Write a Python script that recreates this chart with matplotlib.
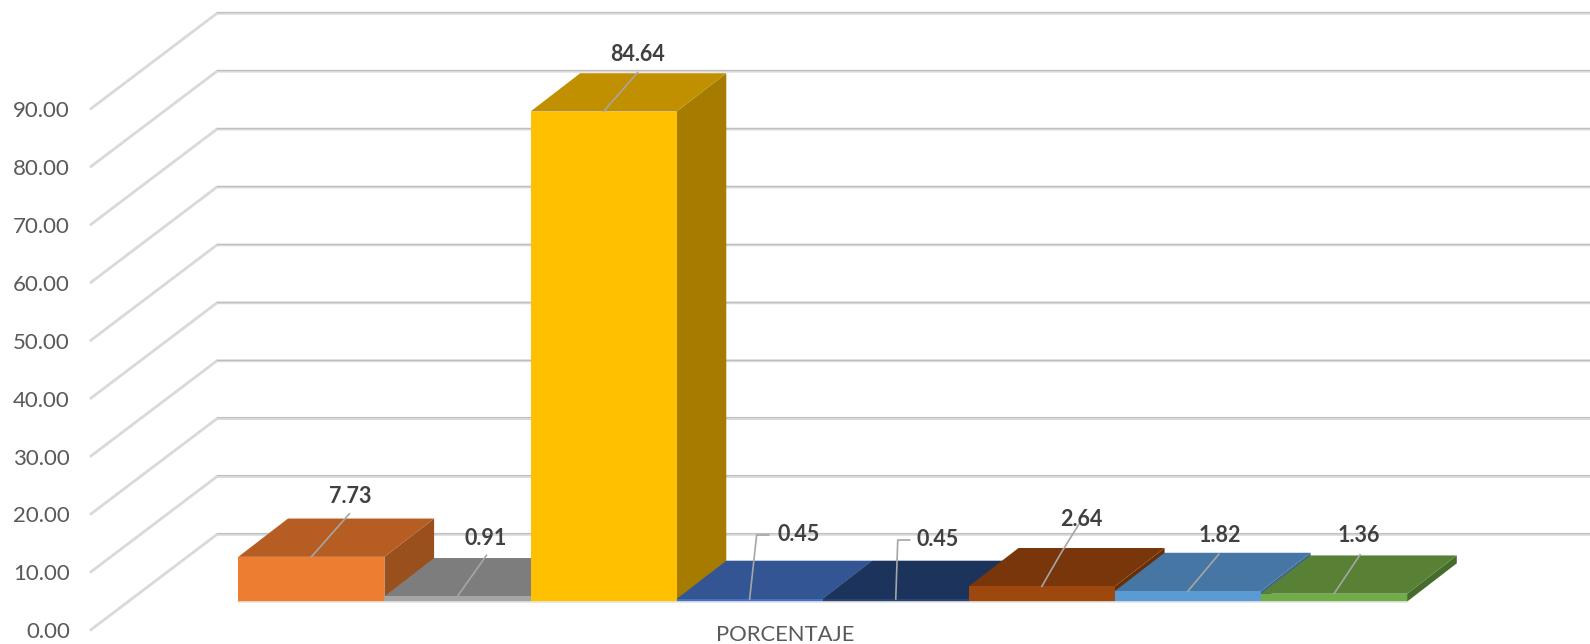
import matplotlib
matplotlib.use("Agg")
import matplotlib.pyplot as plt
from matplotlib.patches import Polygon

plt.rcParams['font.family'] = ['Lato', 'DejaVu Sans']

categories = ["PORCENTAJE"]
values = [7.73, 0.91, 84.64, 0.45, 0.45, 2.64, 1.82, 1.36]
tick_values = [0, 10, 20, 30, 40, 50, 60, 70, 80, 90]
tick_labels = ["0.00", "10.00", "20.00", "30.00", "40.00", "50.00", "60.00", "70.00", "80.00", "90.00"]
front_colors = ["#ED7D31", "#A5A5A5", "#FFC000", "#4472C4", "#264478", "#9E480E", "#5B9BD5", "#70AD47"]
top_colors = ["#B55D22", "#7D7D7D", "#C09000", "#335593", "#1C345C", "#78360A", "#4676A3", "#588135"]
side_colors = ["#9A501D", "#636363", "#A67C00", "#2C4A80", "#172B4D", "#672F08", "#3C6690", "#466C2B"]
# label offset from the bar's front-top midpoint, px (leader elbow + text centre)
leader_paths = [
    [(38, 43)], [(29, 41)], [(34, 39)],
    [(7, 64), (19, 64)], [(2, 59), (14, 59)],
    [(19, 33), (37, 62)], [(31, 37)], [(26, 39)],
]
label_offsets = [(39, 60), (28, 58), (34, 57), (49, 64), (42, 59), (39, 67), (32, 56), (25, 58)]

W, H = 1590, 644
PX_X, PX_Y = 146.1, 5.79      # px per bar width, px per percentage point
X0_PX, BASE_PX = 238.3, 601.6  # front-left corner of first bar

fig = plt.figure(figsize=(W / 100, H / 100), dpi=100, facecolor="white")
ax = fig.add_axes([0, 0, 1, 1])
ax.set_xlim(-X0_PX / PX_X, (W - X0_PX) / PX_X)
ax.set_ylim((BASE_PX - H) / PX_Y, BASE_PX / PX_Y)
ax.axis("off")

# 3D box parameters, data units
BAR_DX, BAR_DY = 49.7 / PX_X, 38.3 / PX_Y
WALL_FX, WALL_FY = (91 - X0_PX) / PX_X, -(629.7 - BASE_PX) / PX_Y
WALL_BX, WALL_BY = (217 - X0_PX) / PX_X, -(534.4 - BASE_PX) / PX_Y

GRID = "#D9D9D9"
for v, lab in zip(tick_values, tick_labels):
    ax.plot([WALL_FX, WALL_BX, ax.get_xlim()[1]], [WALL_FY + v, WALL_BY + v, WALL_BY + v],
            color=GRID, lw=2.0, solid_joinstyle="miter", zorder=1, clip_on=False)
    ax.plot([WALL_BX, ax.get_xlim()[1]], [WALL_BY + v + 0.2] * 2, color="#BFBFBF", lw=0.8, zorder=1)
    ax.text(WALL_FX - 0.145, WALL_FY + v - 2.5 / PX_Y, lab, ha="right", va="center",
            fontsize=16, color="#595959", zorder=5)

z = 10
for i, v in enumerate(values):
    l, r = i, i + 1
    top = [(l, v), (r, v), (r + BAR_DX, v + BAR_DY), (l + BAR_DX, v + BAR_DY)]
    side = [(r, 0), (r + BAR_DX, BAR_DY), (r + BAR_DX, v + BAR_DY), (r, v)]
    front = [(l, 0), (r, 0), (r, v), (l, v)]
    ax.add_patch(Polygon(side, closed=True, fc=side_colors[i], ec="none", zorder=z))
    ax.add_patch(Polygon(top, closed=True, fc=top_colors[i], ec="none", zorder=z + 0.1))
    ax.add_patch(Polygon(front, closed=True, fc=front_colors[i], ec="none", zorder=z + 0.2))
    z += 1
ax.plot([0, len(values)], [0, 0], color="#E4E4E4", lw=1.2, zorder=30)

for i, v in enumerate(values):
    mx = i + 0.5
    xs = [mx] + [mx + p[0] / PX_X for p in leader_paths[i]]
    ys = [v] + [v + p[1] / PX_Y for p in leader_paths[i]]
    ax.plot(xs, ys, color="#A6A6A6", lw=1.2, zorder=31)
    ox, oy = label_offsets[i]
    ax.text(mx + ox / PX_X, v + oy / PX_Y, f"{v:.2f}", ha="center", va="center",
            fontsize=15.5, fontweight="bold", color="#404040", zorder=32)

ax.text((785 - X0_PX) / PX_X, -(635 - BASE_PX) / PX_Y, categories[0], ha="center", va="center",
        fontsize=15.8, color="#595959", zorder=5)

fig.savefig("out.png", dpi=100)
